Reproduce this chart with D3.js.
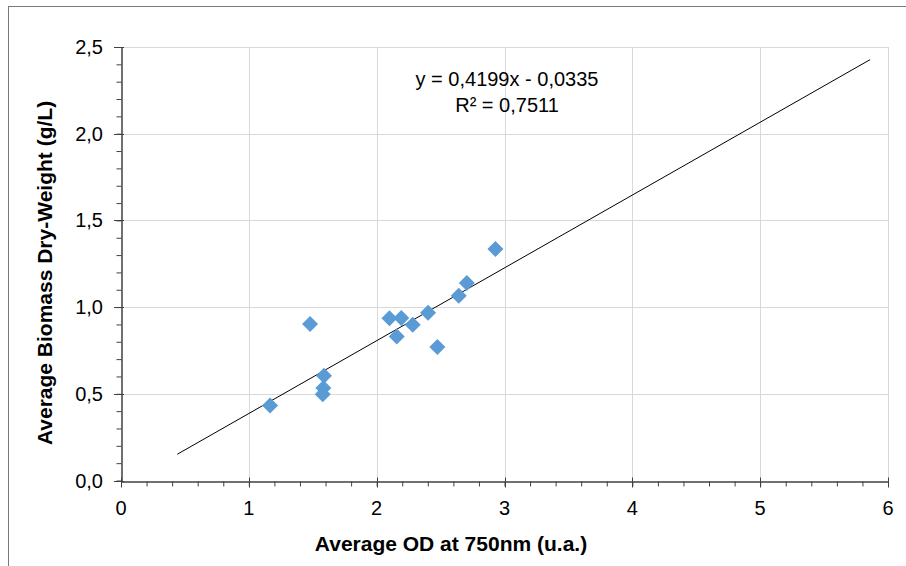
<!DOCTYPE html>
<html>
<head>
<meta charset="utf-8">
<script src="https://cdn.jsdelivr.net/npm/d3@7"></script>
<style>
  body { margin: 0; background: #fff; }
  text { font-family: "Liberation Sans", Arial, sans-serif; }
</style>
</head>
<body>
<svg id="chart"></svg>
<script>
const odValues = [1.166, 1.479, 1.588, 1.583, 1.578, 2.10, 2.193, 2.282, 2.157, 2.402, 2.475, 2.642, 2.705, 2.929];
const biomassValues = [0.433, 0.902, 0.604, 0.533, 0.498, 0.935, 0.937, 0.898, 0.831, 0.968, 0.770, 1.066, 1.139, 1.335];
const xTicks = [0, 1, 2, 3, 4, 5, 6];
const yTicks = [0, 0.5, 1.0, 1.5, 2.0, 2.5];
const trendSlope = 0.4199;
const trendIntercept = -0.0335;
const trendRange = [0.44, 5.86];
const equationLines = ["y = 0,4199x - 0,0335", "R² = 0,7511"];

const W = 906, H = 566;
const margin = {top: 47, right: 18, bottom: 85, left: 121};

const svg = d3.select('#chart').attr('width', W).attr('height', H);

// outer frame (cut by page edges)
svg.append('rect')
  .attr('x', 8.5).attr('y', 6.5)
  .attr('width', W).attr('height', H)
  .attr('fill', 'none').attr('stroke', '#7a7a7a');

const chart = svg.append('g')
  .attr('transform', `translate(${margin.left}, ${margin.top})`);

const xscale = d3.scaleLinear().domain([0, 6]).range([0, 767]);
const yscale = d3.scaleLinear().domain([0, 2.5]).range([433.5, 0]);

const fmt = d => d3.format('.1f')(d).replace('.', ',');

// grid
chart.append('g').selectAll('line')
  .data(xTicks.slice(1))
  .join('line')
  .attr('x1', d => Math.round(xscale(d)) + 0.5).attr('x2', d => Math.round(xscale(d)) + 0.5)
  .attr('y1', 0).attr('y2', yscale(0))
  .attr('stroke', '#d9d9d9');

chart.append('g').selectAll('line')
  .data(yTicks.slice(1))
  .join('line')
  .attr('x1', 0).attr('x2', xscale(6))
  .attr('y1', d => Math.round(yscale(d)) + 0.5).attr('y2', d => Math.round(yscale(d)) + 0.5)
  .attr('stroke', '#d9d9d9');

// minor ticks
const xMinor = d3.range(0, 6.001, 0.2);
const yMinor = d3.range(0, 2.501, 0.1);

const xaxis = d3.axisBottom(xscale).tickValues(xMinor).tickSize(5).tickFormat('').tickSizeOuter(0);
const yaxis = d3.axisLeft(yscale).tickValues(yMinor).tickSize(5).tickFormat('').tickSizeOuter(0);

const xg = chart.append('g').attr('transform', `translate(0, ${Math.round(yscale(0)) + 0.5})`).call(xaxis);
const yg = chart.append('g').attr('transform', `translate(0.5, 0)`).call(yaxis);
[xg, yg].forEach(g => {
  g.select('.domain').attr('stroke', '#404040').attr('stroke-width', 1.5);
  g.selectAll('.tick line').attr('stroke', '#404040');
});

// major ticks (longer)
chart.append('g').selectAll('line')
  .data(xTicks)
  .join('line')
  .attr('x1', d => Math.round(xscale(d)) + 0.5).attr('x2', d => Math.round(xscale(d)) + 0.5)
  .attr('y1', yscale(0) - 3).attr('y2', yscale(0) + 7)
  .attr('stroke', '#404040');
chart.append('g').selectAll('line')
  .data(yTicks)
  .join('line')
  .attr('x1', -7).attr('x2', 3)
  .attr('y1', d => Math.round(yscale(d)) + 0.5).attr('y2', d => Math.round(yscale(d)) + 0.5)
  .attr('stroke', '#404040');

// tick labels
chart.append('g').selectAll('text')
  .data(xTicks)
  .join('text')
  .attr('x', d => xscale(d))
  .attr('y', yscale(0) + 34)
  .attr('text-anchor', 'middle')
  .attr('font-size', 20)
  .attr('fill', '#000')
  .text(d => d);

chart.append('g').selectAll('text')
  .data(yTicks)
  .join('text')
  .attr('x', -18)
  .attr('y', d => yscale(d) + 7)
  .attr('text-anchor', 'end')
  .attr('font-size', 20)
  .attr('fill', '#000')
  .text(d => fmt(d));

// trendline
chart.append('line')
  .attr('x1', xscale(trendRange[0])).attr('y1', yscale(trendSlope * trendRange[0] + trendIntercept))
  .attr('x2', xscale(trendRange[1])).attr('y2', yscale(trendSlope * trendRange[1] + trendIntercept))
  .attr('stroke', '#000').attr('stroke-width', 1);

// points
const data = odValues.map((x, i) => ({x: x, y: biomassValues[i]}));
chart.append('g').selectAll('path')
  .data(data)
  .join('path')
  .attr('transform', d => `translate(${xscale(d.x)}, ${yscale(d.y)})`)
  .attr('d', 'M0,-8L8,0L0,8L-8,0Z')
  .attr('fill', '#5b9bd5');

// equation
chart.append('g').selectAll('text')
  .data(equationLines)
  .join('text')
  .attr('x', 507 - margin.left)
  .attr('y', (d, i) => 86 - margin.top + i * 25.5)
  .attr('text-anchor', 'middle')
  .attr('font-size', 20)
  .attr('fill', '#000')
  .text(d => d);

// axis titles
svg.append('text')
  .attr('x', 451).attr('y', 551)
  .attr('text-anchor', 'middle')
  .attr('font-size', 21).attr('font-weight', 'bold')
  .text('Average OD at 750nm (u.a.)');

svg.append('text')
  .attr('transform', 'translate(52, 273) rotate(-90)')
  .attr('text-anchor', 'middle')
  .attr('font-size', 21).attr('font-weight', 'bold')
  .text('Average Biomass Dry-Weight (g/L)');
</script>
</body>
</html>
